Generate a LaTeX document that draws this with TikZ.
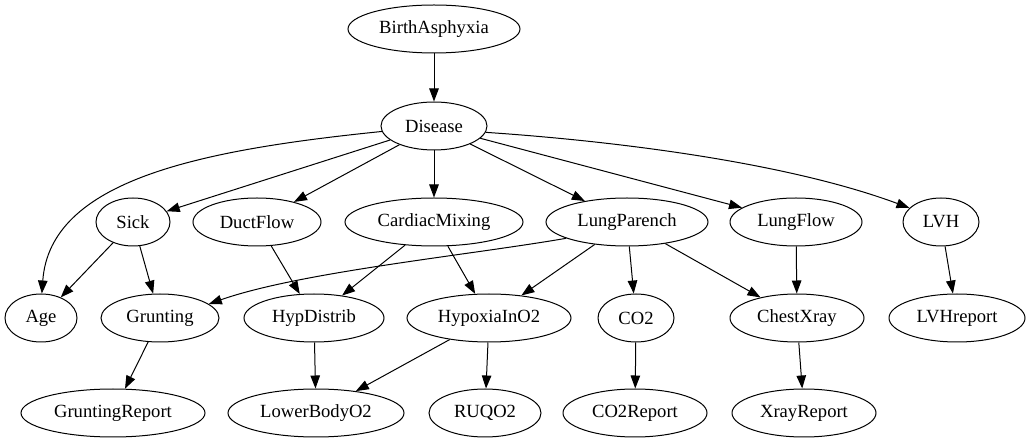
\documentclass[tikz,border=0pt]{standalone}
\usepackage{fontspec}
\setmainfont{Liberation Serif}
\usetikzlibrary{shapes.geometric,arrows.meta}
\begin{document}
\begin{tikzpicture}[x=1pt,y=-1pt,
  nd/.style={draw,ellipse,line width=1pt,inner sep=0pt,minimum height=48pt,font=\fontsize{18.6}{20}\selectfont},
  edge/.style={draw,line width=1pt,-{Triangle[length=13pt,width=9.5pt]}}]
\useasboundingbox (0,0) rectangle (1031,443);
\node[nd,minimum width=172pt] (ba) at (434,29) {BirthAsphyxia};
\node[nd,minimum width=106pt] (ds) at (434,126) {Disease};
\node[nd,minimum width=74pt] (sick) at (133,222) {Sick};
\node[nd,minimum width=128pt] (duct) at (257,222) {DuctFlow};
\node[nd,minimum width=178pt] (cm) at (434,222) {CardiacMixing};
\node[nd,minimum width=162pt] (lp) at (627,222) {LungParench};
\node[nd,minimum width=132pt] (lf) at (796,222) {LungFlow};
\node[nd,minimum width=76pt] (lvh) at (941,222) {LVH};
\node[nd,minimum width=72pt] (age) at (41,318) {Age};
\node[nd,minimum width=118pt] (gr) at (160,318) {Grunting};
\node[nd,minimum width=140pt] (hd) at (314,318) {HypDistrib};
\node[nd,minimum width=164pt] (hyp) at (489,318) {HypoxiaInO2};
\node[nd,minimum width=76pt] (co2) at (636,318) {CO2};
\node[nd,minimum width=134pt] (cx) at (797,318) {ChestXray};
\node[nd,minimum width=136pt] (lvhr) at (957,318) {LVHreport};
\node[nd,minimum width=184pt] (grr) at (113,413) {GruntingReport};
\node[nd,minimum width=176pt] (lbo) at (316,413) {LowerBodyO2};
\node[nd,minimum width=112pt] (ruq) at (485,413) {RUQO2};
\node[nd,minimum width=144pt] (co2r) at (635,413) {CO2Report};
\node[nd,minimum width=144pt] (xr) at (804,413) {XrayReport};

\draw[edge] (ba) -- (ds);
\draw[edge] (ds.186) .. controls (200,150) and (50,180) .. (age.88);
\draw[edge] (ds) -- (sick);
\draw[edge] (ds) -- (duct);
\draw[edge] (ds) -- (cm);
\draw[edge] (ds) -- (lp);
\draw[edge] (ds) -- (lf);
\draw[edge] (ds.-7) .. controls (600,140) and (780,160) .. (lvh.156);
\draw[edge] (sick) -- (age);
\draw[edge] (sick) -- (gr);
\draw[edge] (duct) -- (hd);
\draw[edge] (cm) -- (hd);
\draw[edge] (cm) -- (hyp);
\draw[edge] (lp.195) .. controls (470,255) and (300,272) .. (gr.16);
\draw[edge] (lp) -- (hyp);
\draw[edge] (lp) -- (co2);
\draw[edge] (lp) -- (cx);
\draw[edge] (lf) -- (cx);
\draw[edge] (lvh) -- (lvhr);
\draw[edge] (gr) -- (grr);
\draw[edge] (hd) -- (lbo);
\draw[edge] (hyp) -- (lbo);
\draw[edge] (hyp) -- (ruq);
\draw[edge] (co2) -- (co2r);
\draw[edge] (cx) -- (xr);
\end{tikzpicture}
\end{document}
